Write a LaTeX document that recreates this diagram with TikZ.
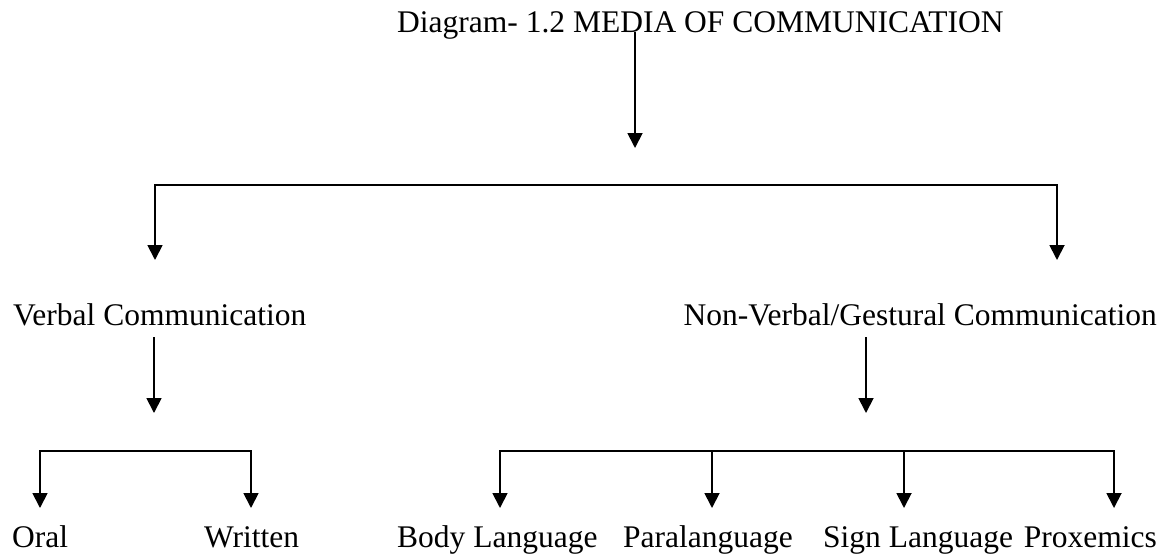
\documentclass[tikz,border=0pt]{standalone}
\usepackage{fontspec}
\setmainfont{Liberation Serif}
\usetikzlibrary{arrows.meta,positioning,calc}

\begin{document}
\begin{tikzpicture}[x=1pt, y=-1pt,
        txt/.style={inner sep=0pt, anchor=base west, font=\fontsize{31.5}{36}\selectfont},
        arrow/.style={-{Triangle[length=15pt,width=15pt]}, line width=1.8pt}
    ]
    \useasboundingbox (0,0) rectangle (1169,555);

    \node[txt] (title) at (397,32) {Diagram- 1.2 MEDIA OF COMMUNICATION};

    \node[txt] (verbal) at (13,325) {Verbal Communication};
    \node[txt, anchor=base east] (nonverbal) at (1157,325) {Non-Verbal/Gestural Communication};

    \node[txt] (oral) at (12,547) {Oral};
    \node[txt] (written) at (204,547) {Written};
    \node[txt] (body) at (397,547) {Body Language};
    \node[txt] (para) at (623,547) {Paralanguage};
    \node[txt] (sign) at (823,547) {Sign Language};
    \node[txt, anchor=base east] (prox) at (1157,547) {Proxemics};

    \coordinate (split) at (635,185);
    \coordinate (titletip) at (635,148);
    \coordinate (verbaltip) at (155,260);
    \coordinate (nonverbaltip) at (1057,260);
    \coordinate (vsplit) at (154,451);
    \coordinate (nvsplit) at (866,451);

    \draw[arrow] (title.base -| split) -- (titletip);
    \draw[arrow] (split) -| (verbaltip);
    \draw[arrow] (split) -| (nonverbaltip);

    \draw[arrow] (verbal.base -| vsplit) ++(0,12) -- ([yshift=38pt]vsplit);
    \draw[arrow] (nonverbal.base -| nvsplit) ++(0,12) -- ([yshift=38pt]nvsplit);

    \foreach \n/\x in {oral/40, written/251} {
        \coordinate (\n tip) at (\x,508);
        \draw[arrow] (vsplit) -| (\n tip);
    }
    \foreach \n/\x in {body/500, para/712, sign/904, prox/1114} {
        \coordinate (\n tip) at (\x,508);
        \draw[arrow] (nvsplit) -| (\n tip);
    }
\end{tikzpicture}
\end{document}
